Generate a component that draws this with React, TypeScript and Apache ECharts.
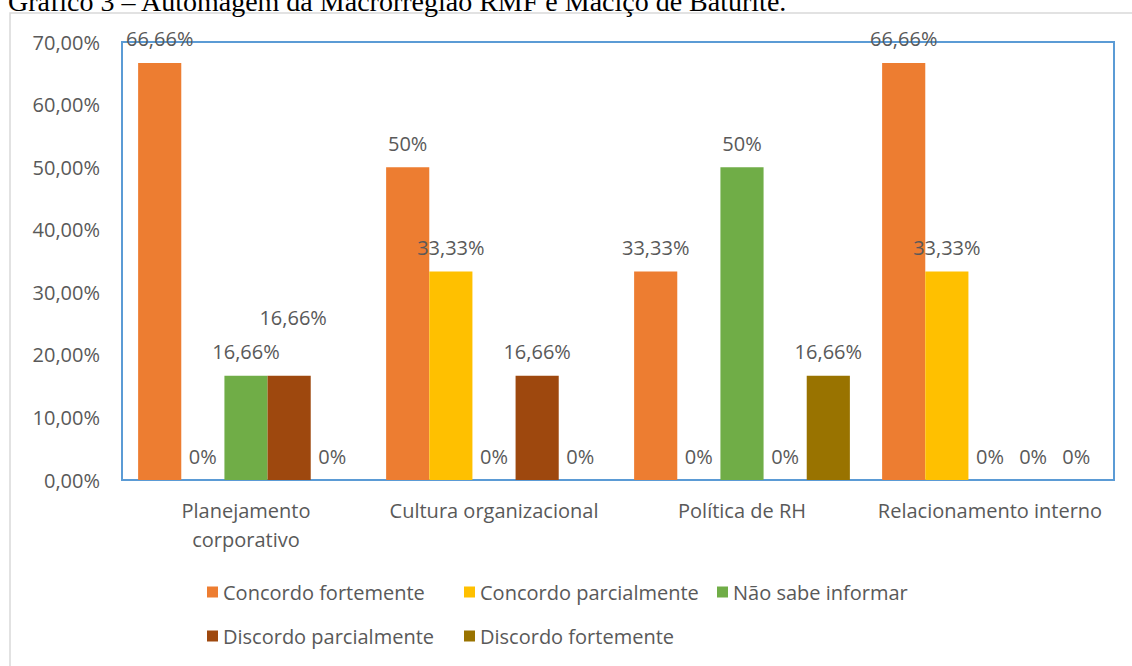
import React, { useEffect, useRef } from "react";
import * as echarts from "echarts";

const title = "Gráfico 3 – Automagem da Macrorregião RMF e Maciço de Baturité.";
const categories = [
  "Planejamento\ncorporativo",
  "Cultura organizacional",
  "Política de RH",
  "Relacionamento interno",
];
const seriesNames = [
  "Concordo fortemente",
  "Concordo parcialmente",
  "Não sabe informar",
  "Discordo parcialmente",
  "Discordo fortemente",
];
const concordoFortemente = [66.66, 50, 33.33, 66.66];
const concordoParcialmente = [0, 33.33, 0, 33.33];
const naoSabeInformar = [16.66, 0, 50, 0];
const discordoParcialmente = [16.66, 16.66, 0, 0];
const discordoFortemente = [0, 0, 16.66, 0];
const yTicks = [0, 10, 20, 30, 40, 50, 60, 70];

const colors = ["#ED7D31", "#FFC000", "#70AD47", "#9E480E", "#997300"];
const FONT = "Open Sans";
const GRAY = "#595959";
const FS = 20;

export default function App() {
  const ref = useRef<HTMLDivElement>(null);
  useEffect(() => {
    if (!ref.current) return;
    const chart = echarts.init(ref.current, null, { renderer: "svg" });
    const allValues = [
      concordoFortemente,
      concordoParcialmente,
      naoSabeInformar,
      discordoParcialmente,
      discordoFortemente,
    ];
    const fmt = (p: any) => String(p.value).replace(".", ",") + "%";
    const series = allValues.map((vals, si) => ({
      name: seriesNames[si],
      type: "bar",
      barGap: "0%",
      barCategoryGap: "13%",
      itemStyle: { color: colors[si] },
      label: {
        show: true,
        position: "top",
        distance: 14,
        formatter: fmt,
        fontFamily: FONT,
        fontSize: FS,
        color: GRAY,
      },
      data: vals.map((v, ci) =>
        si === 3 && ci === 0
          ? { value: v, label: { offset: [4, -34] } }
          : { value: v }
      ),
    }));
    const legendPos = [
      [207, 582],
      [464, 582],
      [717, 582],
      [207, 626],
      [464, 626],
    ];
    const legends = seriesNames.map((n, i) => ({
      data: [n],
      left: legendPos[i][0],
      top: legendPos[i][1],
      padding: 0,
      icon: "rect",
      itemWidth: 11,
      itemHeight: 11,
      textStyle: { fontFamily: FONT, fontSize: FS, color: GRAY },
    }));
    chart.setOption({
      animation: false,
      textStyle: { fontFamily: FONT },
      grid: {
        left: 122,
        top: 42,
        right: 18,
        bottom: 186,
        show: true,
        borderColor: "#5B9BD5",
        borderWidth: 2,
        backgroundColor: "transparent",
        containLabel: false,
      },
      legend: legends,
      xAxis: {
        type: "category",
        data: categories,
        axisLine: { show: false },
        axisTick: { show: false },
        axisLabel: {
          margin: 16,
          fontFamily: FONT,
          fontSize: FS,
          color: GRAY,
          lineHeight: 29,
          interval: 0,
        },
      },
      yAxis: {
        type: "value",
        min: yTicks[0],
        max: yTicks[yTicks.length - 1],
        interval: 10,
        splitLine: { show: false },
        axisLine: { show: false },
        axisTick: { show: false },
        axisLabel: {
          margin: 22,
          fontFamily: FONT,
          fontSize: FS,
          color: GRAY,
          formatter: (v: number) => v.toFixed(2).replace(".", ",") + "%",
        },
      },
      graphic: [
        {
          type: "rect",
          shape: { x: 10, y: 13, width: 1140, height: 700 },
          style: { fill: "none", stroke: "#D9D9D9", lineWidth: 1.5 },
          silent: true,
        },
        {
          type: "text",
          x: 8,
          y: -13,
          style: {
            text: title,
            font: '28px "Liberation Serif", "Times New Roman", serif',
            fill: "#000",
            verticalAlign: "top",
          },
        },
      ],
      series,
    });
    return () => chart.dispose();
  }, []);
  return (
    <div
      ref={ref}
      style={{ position: "fixed", left: 0, top: 0, width: 1132, height: 666, background: "#fff" }}
    />
  );
}
